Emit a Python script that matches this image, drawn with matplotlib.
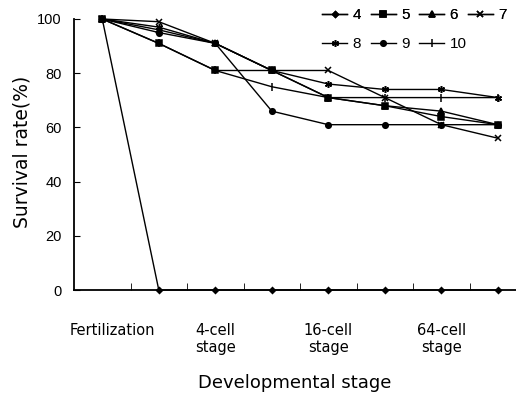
import matplotlib
matplotlib.use("Agg")
import matplotlib.pyplot as plt
import matplotlib.transforms as mtransforms

plt.rcParams['font.family'] = ['Liberation Sans', 'DejaVu Sans']

stages = list(range(8))
stage_labels = ["Fertilization", "4-cell\nstage", "16-cell\nstage", "64-cell\nstage"]
stage_label_pos = [0, 2, 4, 6]

s4 = [100, 0, 0, 0, 0, 0, 0, 0]
s5 = [100, 91, 81, 81, 71, 68, 64, 61]
s6 = [100, 96, 91, 81, 71, 68, 66, 61]
s7 = [100, 99, 91, 81, 81, 71, 61, 56]
s8 = [100, 97, 91, 81, 76, 74, 74, 71]
s9 = [100, 95, 91, 66, 61, 61, 61, 61]
s10 = [100, 91, 81, 75, 71, 71, 71, 71]

series = [("4", s4, "D", 3.0), ("5", s5, "s", 4), ("6", s6, "^", 4),
          ("7", s7, "x", 4), ("8", s8, (6, 2, 0), 5), ("9", s9, "o", 4),
          ("10", s10, "|", 6)]

fig = plt.figure(figsize=(5.16, 4.0), dpi=100)
ax = fig.add_axes([74/516, 0.275, 442/516, 0.6775])

handles = {}
for name, vals, mk, ms in series:
    h, = ax.plot(stages, vals, color="black", lw=1.0, marker=mk, markersize=ms,
                 markeredgewidth=1.1, label=name, clip_on=False)
    handles[name] = h

ax.set_xlim(-0.5, 7.32)
ax.set_ylim(0, 100)
ax.spines['top'].set_visible(False)
ax.spines['right'].set_visible(False)
ax.spines['left'].set_linewidth(1.3)
ax.spines['bottom'].set_linewidth(1.3)

ax.set_yticks([0, 20, 40, 60, 80, 100])
ax.set_yticklabels(["0", "20", "40", "60", "80", "100"], fontsize=10.5)
ax.tick_params(axis='y', direction='in', length=4, pad=9)

ax.set_xticks(stage_label_pos)
ax.set_xticklabels(stage_labels, fontsize=10.5, linespacing=1.15, family='DejaVu Sans')
ax.set_xticks([0.5 + i for i in range(7)], minor=True)
ax.tick_params(axis='x', which='major', length=0, pad=24)
ax.tick_params(axis='x', which='minor', direction='in', length=5)
lbl0 = ax.get_xticklabels()[0]
lbl0.set_transform(lbl0.get_transform() + mtransforms.ScaledTranslation(10/100, 0, fig.dpi_scale_trans))

fig.text(0.043, 0.62, "Survival rate(%)", rotation=90, ha='center', va='center',
         fontsize=13.5, family='DejaVu Sans')
fig.text(0.572, 0.043, "Developmental stage", ha='center', va='center', fontsize=13,
         family='DejaVu Sans')

row1 = ["4", "5", "6", "7"]
row2 = ["8", "9", "10"]
common = dict(loc='upper left', frameon=False, fontsize=11, handlelength=1.65,
              handletextpad=0.35, columnspacing=0.62, borderpad=0, borderaxespad=0)
leg1 = fig.legend([handles[k] for k in row1], row1, ncol=4,
                  bbox_to_anchor=(322/516, 1 - 8/400), **common)
fig.add_artist(leg1)
leg2 = fig.legend([handles[k] for k in row2], row2, ncol=3,
                  bbox_to_anchor=(322/516, 1 - 37/400), **common)

fig.savefig("out.png", dpi=100)
